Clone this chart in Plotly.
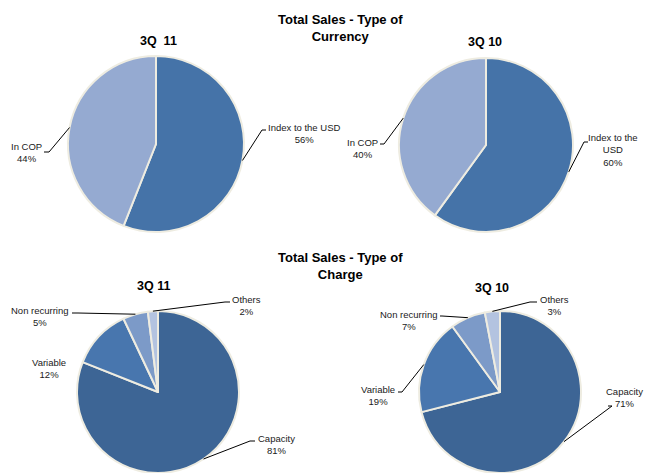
import math
import plotly.graph_objects as go

W, H = 646, 473

# ---- data ----
currency_labels = ["Index to the USD", "In COP"]
currency_3q11 = [56, 44]
currency_3q10 = [60, 40]

charge_labels = ["Capacity", "Variable", "Non recurring", "Others"]
charge_3q11 = [81, 12, 5, 2]
charge_3q10 = [71, 19, 7, 3]

currency_colors = ["#4573A8", "#95AAD1"]
charge_colors = ["#3D6595", "#4876AE", "#7C9AC8", "#B3C3E0"]
border = "#EEECE1"
FONT = "Liberation Sans, Arial, sans-serif"


def fx(x):
    return x / W


def fy(y):
    return 1 - y / H


# pie geometry (pixel centre and radius)
pies = [
    dict(vals=currency_3q11, labels=currency_labels, colors=currency_colors, cx=156, cy=144, r=88),
    dict(vals=currency_3q10, labels=currency_labels, colors=currency_colors, cx=486, cy=145, r=87),
    dict(vals=charge_3q11, labels=charge_labels, colors=charge_colors, cx=158, cy=392, r=81),
    dict(vals=charge_3q10, labels=charge_labels, colors=charge_colors, cx=500, cy=392, r=81),
]

fig = go.Figure()
for p in pies:
    fig.add_trace(go.Pie(
        values=p["vals"], labels=p["labels"], sort=False, direction="clockwise", rotation=0,
        textinfo="none", hoverinfo="label+percent", showlegend=False,
        marker=dict(colors=p["colors"], line=dict(color=border, width=2)),
        domain=dict(x=[fx(p["cx"] - p["r"]), fx(p["cx"] + p["r"])],
                    y=[max(0, fy(p["cy"] + p["r"])), fy(p["cy"] - p["r"])]),
    ))


def edge_point(p, idx):
    tot = sum(p["vals"])
    start = sum(p["vals"][:idx]) / tot * 360
    mid = start + p["vals"][idx] / tot * 180
    a = math.radians(mid)
    return p["cx"] + p["r"] * math.sin(a), p["cy"] - p["r"] * math.cos(a)


shapes = []
annotations = []


def label(p, idx, tx, ty, elbow=None, end=None, anchor="center"):
    v = p["vals"][idx]
    name = p["labels"][idx]
    if name == "Index to the USD" and tx > 560:
        name = "Index to the<br>USD"
    annotations.append(dict(
        x=fx(tx), y=fy(ty), xref="paper", yref="paper", showarrow=False,
        text=f"{name}<br>{v}%", xanchor=anchor, yanchor="middle",
        font=dict(family=FONT, size=9.5, color="#1a1a1a"), align="center"))
    if elbow is not None:
        ex, ey = edge_point(p, idx)
        path = f"M {fx(ex)},{fy(ey)} L {fx(elbow[0])},{fy(elbow[1])} L {fx(end[0])},{fy(end[1])}"
        shapes.append(dict(type="path", path=path, xref="paper", yref="paper",
                           line=dict(color="#000000", width=1)))


# top-left
label(pies[0], 0, 304, 133, (262, 130), (266, 130))
label(pies[0], 1, 27, 152, (49, 152), (44, 152))
# top-right
label(pies[1], 1, 362, 148, (384, 144), (380, 144))
label(pies[1], 0, 613, 150, (584, 142), (588, 142))
# bottom-left
label(pies[2], 3, 246, 305, (225, 302), (230, 302))
label(pies[2], 2, 40, 316, (78, 313), (72, 313))
label(pies[2], 1, 49, 368)
label(pies[2], 0, 276, 444, (250, 441), (255, 441))
# bottom-right
label(pies[3], 3, 554, 305, (530, 302), (537, 302))
label(pies[3], 2, 409, 320, (442, 316), (440, 316))
label(pies[3], 1, 378, 395, (402, 392), (398, 392))
label(pies[3], 0, 645, 397, (612, 406), (608, 406), anchor="right")

titles = [
    ("Total Sales - Type of<br>Currency", 340, 28, 13),
    ("3Q  11", 158, 41, 12.5),
    ("3Q 10", 485, 42, 12.5),
    ("Total Sales - Type of<br>Charge", 340, 266, 13),
    ("3Q 11", 153, 286, 12.5),
    ("3Q 10", 492, 288, 12.5),
]
for t, x, y, s in titles:
    annotations.append(dict(
        x=fx(x), y=fy(y), xref="paper", yref="paper", showarrow=False,
        text=f"<b>{t}</b>", xanchor="center", yanchor="middle",
        font=dict(family=FONT, size=s, color="#000000"), align="center"))

fig.update_layout(
    width=W, height=H, margin=dict(l=0, r=0, t=0, b=0),
    paper_bgcolor="white", plot_bgcolor="white",
    shapes=shapes, annotations=annotations,
)

fig.write_html("out.html")
